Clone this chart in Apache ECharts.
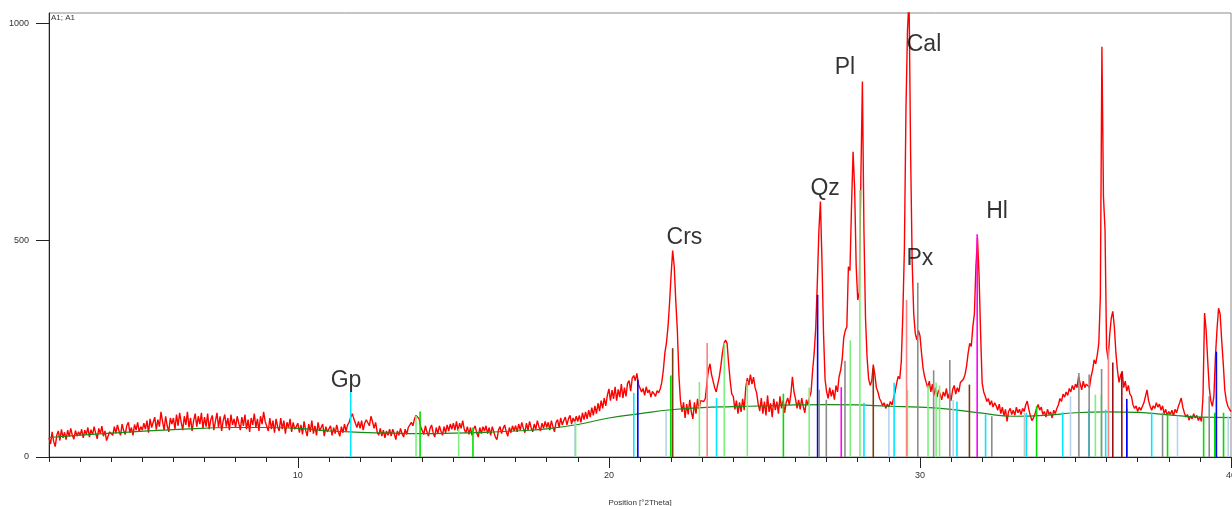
<!DOCTYPE html>
<html>
<head>
<meta charset="utf-8">
<title>XRD pattern</title>
<script src="https://cdn.jsdelivr.net/npm/echarts@6/dist/echarts.min.js"></script>
<style>
  html, body { margin: 0; padding: 0; background: #fff; }
  #chart { width: 1232px; height: 506px; }
</style>
</head>
<body>
<div id="chart"></div>
<script>
// measured scan, 2Theta 2.00 .. 40.00, step 0.05 (one row per degree)
const startPos = 2.0;
const stepSize = 0.05;
const counts = [
  45, 30, 58, 36, 24, 50, 60, 38, 64, 44, 57, 40, 62, 47, 66, 50, 41, 61, 48, 58,
  50, 64, 44, 62, 52, 68, 46, 63, 51, 70, 55, 42, 66, 54, 71, 48, 60, 38, 34, 58,
  62, 50, 70, 55, 74, 60, 50, 76, 61, 52, 72, 80, 56, 68, 50, 75, 62, 80, 58, 70,
  62, 78, 64, 84, 56, 88, 68, 80, 92, 63, 86, 70, 104, 82, 62, 94, 72, 58, 90, 76,
  90, 64, 98, 72, 102, 80, 62, 94, 74, 104, 68, 90, 60, 84, 100, 70, 94, 76, 102, 66,
  92, 70, 100, 64, 86, 96, 62, 82, 102, 68, 94, 60, 84, 98, 70, 90, 62, 98, 74, 88,
  68, 94, 78, 62, 92, 72, 98, 64, 86, 58, 90, 74, 100, 68, 88, 60, 94, 76, 104, 82,
  78, 60, 90, 64, 84, 56, 88, 70, 60, 90, 64, 84, 54, 80, 68, 88, 58, 80, 64, 70,
  78, 56, 74, 52, 82, 62, 48, 76, 58, 84, 54, 72, 50, 80, 60, 56, 76, 48, 70, 58,
  56, 72, 50, 68, 54, 74, 58, 48, 70, 56, 76, 60, 74, 80, 92, 100, 88, 78, 68, 82,
  66, 84, 62, 78, 86, 90, 72, 94, 82, 66, 80, 58, 50, 66, 48, 62, 44, 60, 50, 64,
  48, 64, 54, 40, 60, 50, 66, 54, 46, 64, 52, 68, 70, 80, 72, 88, 96, 100, 88, 70,
  66, 52, 72, 58, 48, 66, 74, 56, 46, 68, 54, 72, 60, 50, 70, 56, 74, 60, 76, 64,
  78, 62, 82, 60, 78, 66, 84, 64, 56, 70, 52, 68, 50, 64, 72, 56, 46, 68, 54, 70,
  60, 72, 54, 68, 50, 70, 58, 46, 40, 62, 70, 54, 66, 74, 58, 48, 68, 56, 72, 60,
  72, 58, 76, 62, 80, 66, 56, 78, 62, 82, 68, 58, 76, 64, 84, 70, 60, 78, 66, 82,
  68, 80, 62, 84, 70, 58, 80, 86, 68, 90, 74, 84, 92, 74, 88, 96, 76, 90, 80, 94,
  82, 96, 80, 102, 86, 104, 88, 108, 92, 114, 96, 118, 100, 124, 106, 130, 112, 136, 118, 142,
  157, 130, 154, 134, 162, 130, 156, 138, 168, 136, 160, 140, 170, 176, 152, 182, 188, 176, 193, 168,
  165, 150, 158, 142, 162, 148, 155, 138, 151, 146, 140, 153, 148, 157, 172, 200, 240, 263, 300, 355,
  420, 476, 440, 360, 293, 190, 130, 104, 126, 90, 122, 98, 132, 104, 88, 126, 100, 134, 110, 130,
  130, 128, 135, 170, 200, 215, 190, 175, 160, 150, 168, 185, 210, 240, 262, 270, 262, 215, 175, 145,
  140, 110, 130, 100, 126, 104, 134, 108, 160, 182, 166, 190, 168, 184, 160, 148, 122, 106, 136, 100,
  128, 96, 142, 104, 124, 92, 134, 108, 128, 100, 140, 112, 130, 102, 126, 136, 120, 145, 185, 150,
  134, 112, 132, 110, 136, 116, 102, 132, 120, 138, 150, 200, 240, 298, 400, 520, 589, 454, 285, 179,
  150, 135, 160, 140, 155, 132, 165, 150, 185, 200, 225, 275, 292, 300, 439, 430, 578, 704, 620, 440,
  362, 380, 640, 866, 520, 320, 230, 180, 165, 175, 213, 190, 160, 150, 135, 128, 118, 125, 112, 122,
  115, 128, 120, 135, 150, 170, 186, 180, 220, 330, 480, 800, 985, 1060, 700, 450, 330, 285, 270, 292,
  280, 240, 205, 185, 172, 160, 175, 150, 168, 142, 160, 138, 155, 145, 132, 150, 140, 158, 135, 148,
  130, 155, 165, 145, 160, 150, 172, 168, 180, 190, 210, 240, 262, 255, 300, 330, 440, 505, 420, 285,
  171, 150, 140, 128, 135, 120, 130, 115, 125, 118, 108, 122, 100, 115, 95, 110, 82, 105, 112, 98,
  108, 96, 115, 102, 110, 98, 112, 105, 120, 129, 110, 95, 84, 90, 100, 112, 121, 108, 115, 98,
  105, 92, 110, 98, 104, 90, 108, 100, 112, 120, 135, 128, 145, 138, 150, 142, 158, 150, 165, 155,
  168, 160, 186, 170, 155, 175, 160, 168, 172, 160, 185, 200, 224, 215, 235, 262, 370, 946, 600, 524,
  250, 225, 282, 320, 336, 300, 240, 200, 172, 188, 198, 160, 175, 152, 165, 145, 140, 120, 112, 118,
  105, 115, 108, 112, 125, 140, 155, 130, 117, 108, 118, 112, 125, 115, 122, 108, 118, 100, 110, 96,
  105, 98, 108, 95, 110, 102, 115, 125, 136, 115, 102, 92, 98, 85, 95, 88, 100, 90, 96, 84,
  92, 82, 140, 332, 293, 224, 160, 130, 117, 140, 232, 294, 343, 330, 270, 217, 155, 130, 117, 110,
  105
];

// fitted background
const bgPos = [2, 4, 6, 8, 9, 10, 11, 12, 13, 14, 15, 16, 17, 18, 19, 20, 21, 22, 23, 24, 25, 26, 27, 28, 29, 30, 31, 32, 33, 34, 35, 36, 37, 38, 39, 40];
const bgCounts = [45, 55, 63, 68, 68, 66, 60, 57, 55, 54, 55, 57, 60, 65, 75, 90, 100, 109, 114, 116, 118, 120, 121, 120, 117, 115, 110, 101, 94, 96, 102, 104, 103, 97, 92, 91];

// reference pattern sticks, [2Theta, counts]
const cyanRef = [[11.70, 151], [20.80, 148], [23.46, 136], [28.20, 125], [29.17, 171], [31.19, 128], [32.11, 98], [33.42, 102], [34.59, 103], [35.43, 110], [35.97, 109], [36.66, 112], [37.45, 103]];
const paleBlueRef = [[18.91, 82], [21.84, 105], [29.00, 114], [31.07, 132], [34.84, 140], [38.28, 95], [39.91, 95]];
const lightGreenRef = [[13.80, 95], [15.17, 65], [18.93, 82], [22.91, 173], [23.71, 263], [24.45, 175], [26.44, 160], [27.76, 269], [28.07, 616], [29.60, 155], [30.26, 165], [30.52, 172], [30.63, 165], [35.64, 144], [35.83, 144]];
const greenRef = [[13.93, 105], [15.63, 68], [21.99, 188], [25.61, 146], [33.75, 117], [37.96, 98], [39.12, 92], [39.48, 102], [39.76, 102]];
const blueRef = [[20.93, 178], [26.71, 374], [36.65, 134], [39.53, 243]];
const grayRef = [[26.76, 155], [26.99, 132], [27.59, 222], [29.93, 402], [30.44, 200], [30.96, 224], [32.31, 94], [35.11, 194], [35.44, 190], [35.84, 203], [37.80, 102], [39.30, 140]];
const silverRef = [[33.36, 102]];
const magentaRef = [[27.47, 161], [31.84, 514]];
const salmonRef = [[23.16, 263], [29.57, 362], [36.06, 250]];
const brownRef = [[22.05, 251], [28.50, 205], [31.59, 167]];
const darkRedRef = [[36.20, 218], [36.49, 194]];

// phase labels and where they sit
const phaseNames = ['Gp', 'Crs', 'Qz', 'Pl', 'Cal', 'Px', 'Hl'];
const phaseLabelAt = [[11.55, 176], [22.43, 507], [26.95, 620], [27.59, 899], [30.13, 951], [30.0, 457], [32.48, 565]];

const xMajorTicks = [10, 20, 30, 40];
const yTicks = [0, 500, 1000];

const font = "'Liberation Sans', Arial, sans-serif";

function stickSeries(data, color) {
  return {
    type: 'custom',
    data: data,
    encode: { x: 0, y: 1 },
    z: 4,
    silent: true,
    renderItem: function (params, api) {
      const top = api.coord([api.value(0), api.value(1)]);
      const base = api.coord([api.value(0), 0]);
      return {
        type: 'line',
        shape: { x1: top[0], y1: top[1], x2: base[0], y2: base[1] },
        style: { stroke: color, lineWidth: 1.6 }
      };
    }
  };
}

const chart = echarts.init(document.getElementById('chart'));
chart.setOption({
  animation: false,
  backgroundColor: '#fff',
  textStyle: { fontFamily: font },
  grid: {
    left: 49, right: 1, top: 13, bottom: 49,
    outerBoundsMode: 'none',
    show: true, borderColor: '#8a8a8a', borderWidth: 1
  },
  graphic: [{
    type: 'text', left: 51, top: 14,
    style: { text: 'A1; A1', fontSize: 8, fill: '#333', fontFamily: font }
  }],
  xAxis: [{
    type: 'value', min: 2, max: 40, interval: 1,
    name: 'Position [°2Theta]', nameLocation: 'middle', nameGap: 42,
    nameTextStyle: { fontSize: 8, color: '#333' },
    axisLine: { lineStyle: { color: '#222', width: 1 } },
    axisTick: { length: 5, lineStyle: { color: '#222' } },
    axisLabel: { customValues: xMajorTicks, fontSize: 9, color: '#333', margin: 14 },
    splitLine: { show: false }
  }, {
    type: 'value', min: 2, max: 40, position: 'bottom',
    axisLine: { show: false },
    axisTick: { customValues: xMajorTicks, length: 11, lineStyle: { color: '#222' } },
    axisLabel: { show: false },
    splitLine: { show: false }
  }],
  yAxis: {
    type: 'value', min: 0, max: 1024,
    axisLine: { show: true, lineStyle: { color: '#222', width: 1 } },
    axisTick: { show: true, customValues: yTicks, length: 13, lineStyle: { color: '#222' } },
    axisLabel: {
      customValues: yTicks, fontSize: 9, color: '#333', margin: 20,
      formatter: (v) => String(v)
    },
    splitLine: { show: false }
  },
  series: [
    {
      type: 'line', name: 'A1',
      data: counts.map((c, i) => [+(startPos + i * stepSize).toFixed(2), c]),
      showSymbol: false, z: 2,
      lineStyle: { color: '#ff0000', width: 1.4 }
    },
    {
      type: 'line', name: 'background',
      data: bgPos.map((p, i) => [p, bgCounts[i]]),
      smooth: true, showSymbol: false, z: 3,
      lineStyle: { color: '#168a16', width: 1.2 }
    },
    stickSeries(cyanRef, '#00e8ff'),
    stickSeries(paleBlueRef, '#b8d2ee'),
    stickSeries(lightGreenRef, '#7ef07e'),
    stickSeries(greenRef, '#00dd00'),
    stickSeries(blueRef, '#0000ff'),
    stickSeries(grayRef, '#8c8c8c'),
    stickSeries(silverRef, '#c4c4c4'),
    stickSeries(magentaRef, '#ff00ff'),
    stickSeries(salmonRef, '#ff8080'),
    stickSeries(brownRef, '#7a3c10'),
    stickSeries(darkRedRef, '#a01010'),
    {
      type: 'scatter', name: 'phases',
      data: phaseNames.map((n, i) => ({ name: n, value: phaseLabelAt[i] })),
      symbolSize: 1, z: 5, silent: true,
      itemStyle: { color: 'rgba(0,0,0,0)' },
      label: {
        show: true, position: 'inside', formatter: (p) => p.name,
        fontSize: 23, color: '#000', fontFamily: font
      }
    }
  ]
});
</script>
</body>
</html>
